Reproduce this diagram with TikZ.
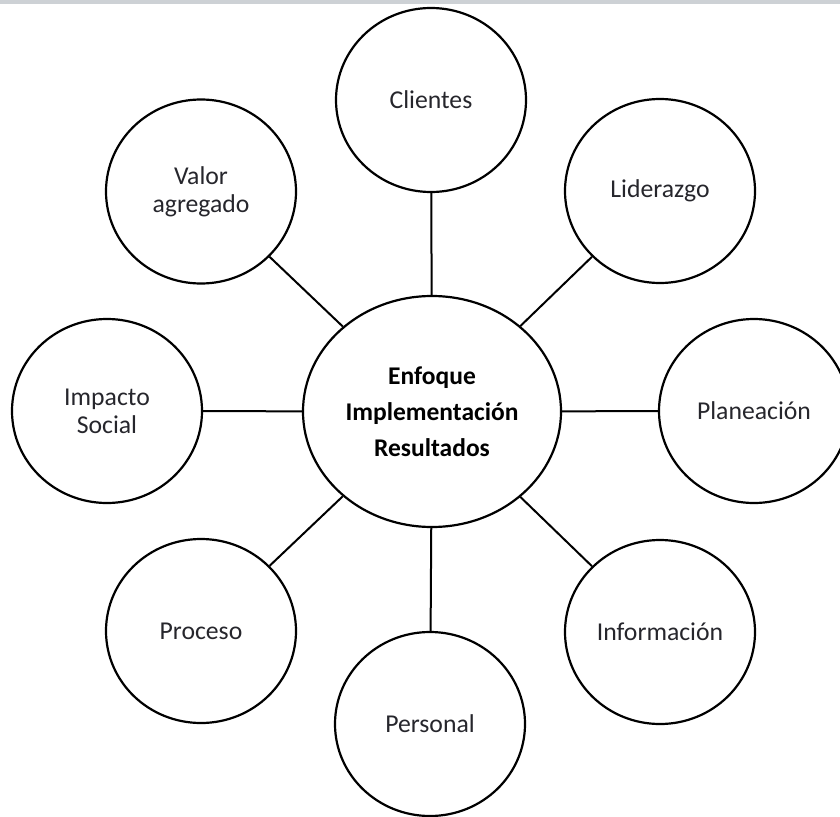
\documentclass[tikz,border=0pt]{standalone}
\usepackage{fontspec}
\setmainfont{Carlito}
\usetikzlibrary{shapes.geometric}
\definecolor{txtgray}{RGB}{38,38,44}
\definecolor{barGray}{RGB}{205,209,213}
\tikzset{
  sat/.style={ellipse, draw=black, line width=2.2pt, fill=white, minimum width=190pt, minimum height=184pt, inner sep=0pt, align=center, text=txtgray, font=\fontsize{25.7}{28}\selectfont},
  hub/.style={ellipse, draw=black, line width=2.2pt, fill=white, minimum width=258pt, minimum height=231pt, inner sep=0pt, align=center, text=black, font=\bfseries\fontsize{25.5}{36}\selectfont},
  link/.style={draw=black, line width=2pt}
}
\begin{document}
\begin{tikzpicture}[x=1pt,y=-1pt]
\useasboundingbox (0,0) rectangle (840,816);
\clip (0,0) rectangle (840,816);
\fill[white] (0,0) rectangle (840,816);
\fill[barGray] (0,0.5) rectangle (840,4.2);
\node[hub] (c) at (432,411.5) {Enfoque\\Implementación\\Resultados};
\node[sat] (cli) at (431,100) {Clientes};
\node[sat] (lid) at (660,191) {Liderazgo};
\node[sat] (pla) at (754,411) {Planeación};
\node[sat] (inf) at (660,632) {Información};
\node[sat] (per) at (430,724) {Personal};
\node[sat] (pro) at (201,631) {Proceso};
\node[sat] (imp) at (107,411) {Impacto\\Social};
\node[sat] (val) at (201,191.5) {Valor\\agregado};
\foreach \s in {cli,lid,pla,inf,per,pro,imp,val}
  \draw[link] (c) -- (\s);
\end{tikzpicture}
\end{document}
